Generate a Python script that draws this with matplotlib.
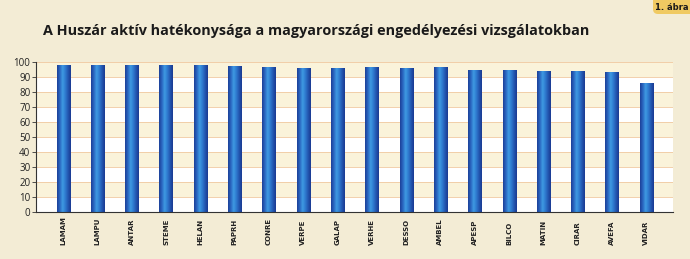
import numpy as np
import matplotlib
matplotlib.use("Agg")
import matplotlib.pyplot as plt
from matplotlib.colors import LinearSegmentedColormap
from matplotlib.patches import FancyBboxPatch

categories = ["LAMAM", "LAMPU", "ANTAR", "STEME", "HELAN", "PAPRH", "CONRE", "VERPE",
              "GALAP", "VERHE", "DESSO", "AMBEL", "APESP", "BILCO", "MATIN", "CIRAR",
              "AVEFA", "VIDAR"]
values = [98.2, 98.2, 98.2, 98.2, 98.2, 97.1, 96.7, 96.3, 96.3, 96.4, 96.2, 96.4,
          94.9, 94.4, 93.8, 93.8, 93.3, 85.8]
yticks = [0, 10, 20, 30, 40, 50, 60, 70, 80, 90, 100]

title = "A Huszár aktív hatékonysága a magyarországi engedélyezési vizsgálatokban"
badge = "1. ábra"

BG = "#F3ECD5"
BAND = "#FAF3DA"
GRID = "#F0C9A0"

W, H = 690, 259
fig = plt.figure(figsize=(W / 100, H / 100), dpi=100, facecolor=BG)
ax = fig.add_axes([36 / W, 1 - 212 / H, (673 - 36) / W, (212 - 62) / H])
ax.set_facecolor("white")

x = np.arange(len(categories))
XL = (-0.79, 17.78)

# alternating bands
for i in range(10):
    if i % 2 == 1:
        ax.axhspan(yticks[i], yticks[i + 1], color=BAND, zorder=0, lw=0)
for t in yticks[1:]:
    ax.axhline(t, color=GRID, lw=0.6, zorder=0.5)

# cylindrical bars
cmap = LinearSegmentedColormap.from_list(
    "cyl", ["#1c3f98", "#2a66c0", "#3f9ae2", "#2f7bd0", "#2356b0", "#1a3a92"])
grad = np.linspace(0, 1, 64).reshape(1, -1)
bw = 0.38
bars = ax.bar(x, values, width=bw, color="none", edgecolor="none", zorder=2)
for b in bars:
    im = ax.imshow(grad, cmap=cmap, aspect="auto", zorder=2,
                   extent=[b.get_x(), b.get_x() + b.get_width(), 0, b.get_height()],
                   interpolation="bilinear")
    im.set_clip_path(b)
ax.set_xlim(*XL)
ax.set_ylim(0, 100)

for s in ["top", "right"]:
    ax.spines[s].set_visible(False)
ax.spines["left"].set_color("#333333")
ax.spines["bottom"].set_color("#333333")
ax.spines["left"].set_linewidth(0.8)
ax.spines["bottom"].set_linewidth(0.8)

ax.set_yticks(yticks)
ax.set_yticklabels([str(t) for t in yticks], fontsize=7, family="Open Sans", color="#222222")
ax.tick_params(axis="y", length=3, width=0.6, color="#333333", pad=1)

ax.set_xticks(x)
ax.set_xticklabels(categories, rotation=90, va="bottom", ha="center",
                   fontsize=5.0, family="Liberation Sans Narrow", fontweight="bold",
                   color="#222222")
ax.tick_params(axis="x", length=0, pad=24)

fig.text(43 / W, 1 - 31 / H, title, fontsize=10.4, fontweight="bold", family="Open Sans",
         color="#1a1a1a", va="center", ha="left")

# badge
bx = fig.add_axes([652 / W, 1 - 15 / H, 45 / W, 15 / H])
bx.set_axis_off()
bx.set_xlim(0, 45)
bx.set_ylim(0, 15)
bx.add_patch(FancyBboxPatch((1, 1), 60, 20, boxstyle="round,pad=0,rounding_size=5",
                            facecolor="#F0CA62", edgecolor="none", clip_on=True))
bx.text(20, 8, badge, fontsize=6, fontweight="bold", family="Liberation Sans Narrow",
        color="#1a1a1a", ha="center", va="center")

fig.savefig("out.png", dpi=100, facecolor=BG)
